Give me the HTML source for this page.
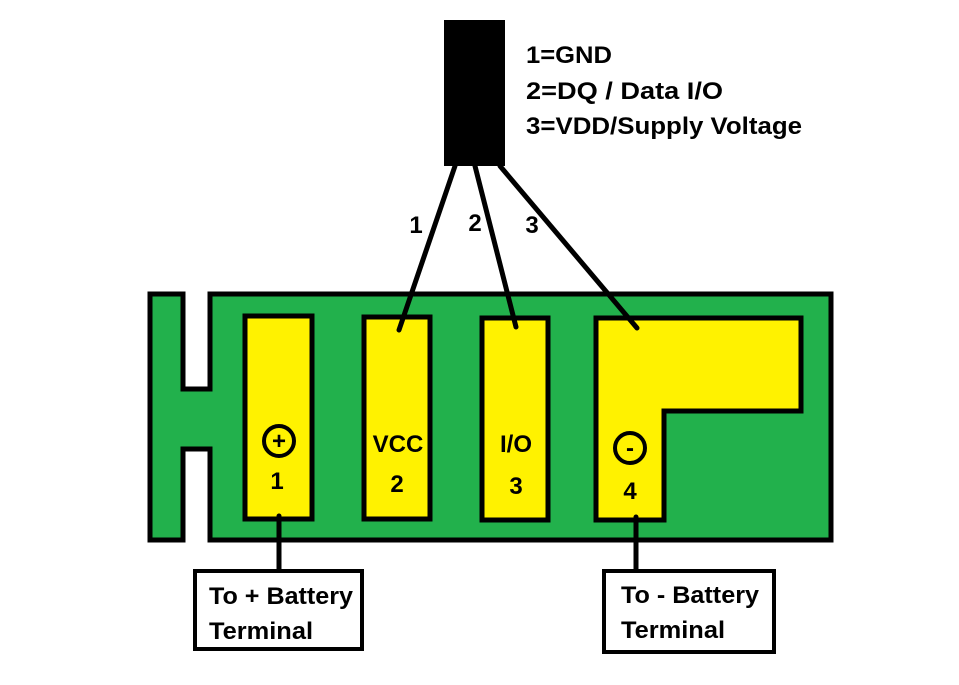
<!DOCTYPE html>
<html><head><meta charset="utf-8"><style>html,body{margin:0;padding:0;background:#fff}svg{display:block}</style></head>
<body>
<svg width="959" height="685" viewBox="0 0 959 685" xmlns="http://www.w3.org/2000/svg" font-family="Liberation Sans, sans-serif" font-weight="bold">
<rect width="959" height="685" fill="#fff"/>
<path d="M150 294 H183 V389 H210 V294 H831 V540 H210 V449 H183 V540 H150 Z" fill="#22b14c" stroke="#000" stroke-width="5" stroke-linejoin="miter"/>
<rect x="245" y="316" width="67" height="203" fill="#fff200" stroke="#000" stroke-width="5"/>
<rect x="364" y="317" width="66" height="202" fill="#fff200" stroke="#000" stroke-width="5"/>
<rect x="482" y="318" width="66" height="202" fill="#fff200" stroke="#000" stroke-width="5"/>
<path d="M596 318 H801 V411 H664 V520 H596 Z" fill="#fff200" stroke="#000" stroke-width="5"/>
<rect x="444" y="20" width="61" height="146" fill="#000"/>
<g stroke="#000" stroke-width="5" stroke-linecap="round">
<line x1="455" y1="166" x2="399" y2="330"/>
<line x1="475" y1="166" x2="516" y2="327"/>
<line x1="500" y1="166" x2="637" y2="328"/>
<line x1="279" y1="516" x2="279" y2="570"/>
<line x1="636" y1="517" x2="636" y2="570"/>
</g>
<circle cx="279" cy="441" r="15" fill="none" stroke="#000" stroke-width="4"/>
<circle cx="630" cy="448" r="15" fill="none" stroke="#000" stroke-width="4"/>
<g font-size="24" fill="#000" text-anchor="middle">
<text x="279" y="449">+</text>
<text x="630" y="456">-</text>
<text x="277" y="489">1</text>
<text x="398" y="452">VCC</text>
<text x="397" y="492">2</text>
<text x="516" y="452">I/O</text>
<text x="516" y="494">3</text>
<text x="630" y="499">4</text>
<text x="416" y="233">1</text>
<text x="475" y="231">2</text>
<text x="532" y="233">3</text>
</g>
<g font-size="24" fill="#000">
<text x="526" y="63" textLength="86" lengthAdjust="spacingAndGlyphs">1=GND</text>
<text x="526" y="99" textLength="197" lengthAdjust="spacingAndGlyphs">2=DQ / Data I/O</text>
<text x="526" y="134" textLength="276" lengthAdjust="spacingAndGlyphs">3=VDD/Supply Voltage</text>
</g>
<rect x="195" y="571" width="167" height="78" fill="#fff" stroke="#000" stroke-width="4"/>
<rect x="604" y="571" width="170" height="81" fill="#fff" stroke="#000" stroke-width="4"/>
<g font-size="24" fill="#000">
<text x="209" y="604" textLength="144" lengthAdjust="spacingAndGlyphs">To + Battery</text>
<text x="209" y="639" textLength="104" lengthAdjust="spacingAndGlyphs">Terminal</text>
<text x="621" y="603" textLength="138" lengthAdjust="spacingAndGlyphs">To - Battery</text>
<text x="621" y="638" textLength="104" lengthAdjust="spacingAndGlyphs">Terminal</text>
</g>
</svg>
</body></html>
